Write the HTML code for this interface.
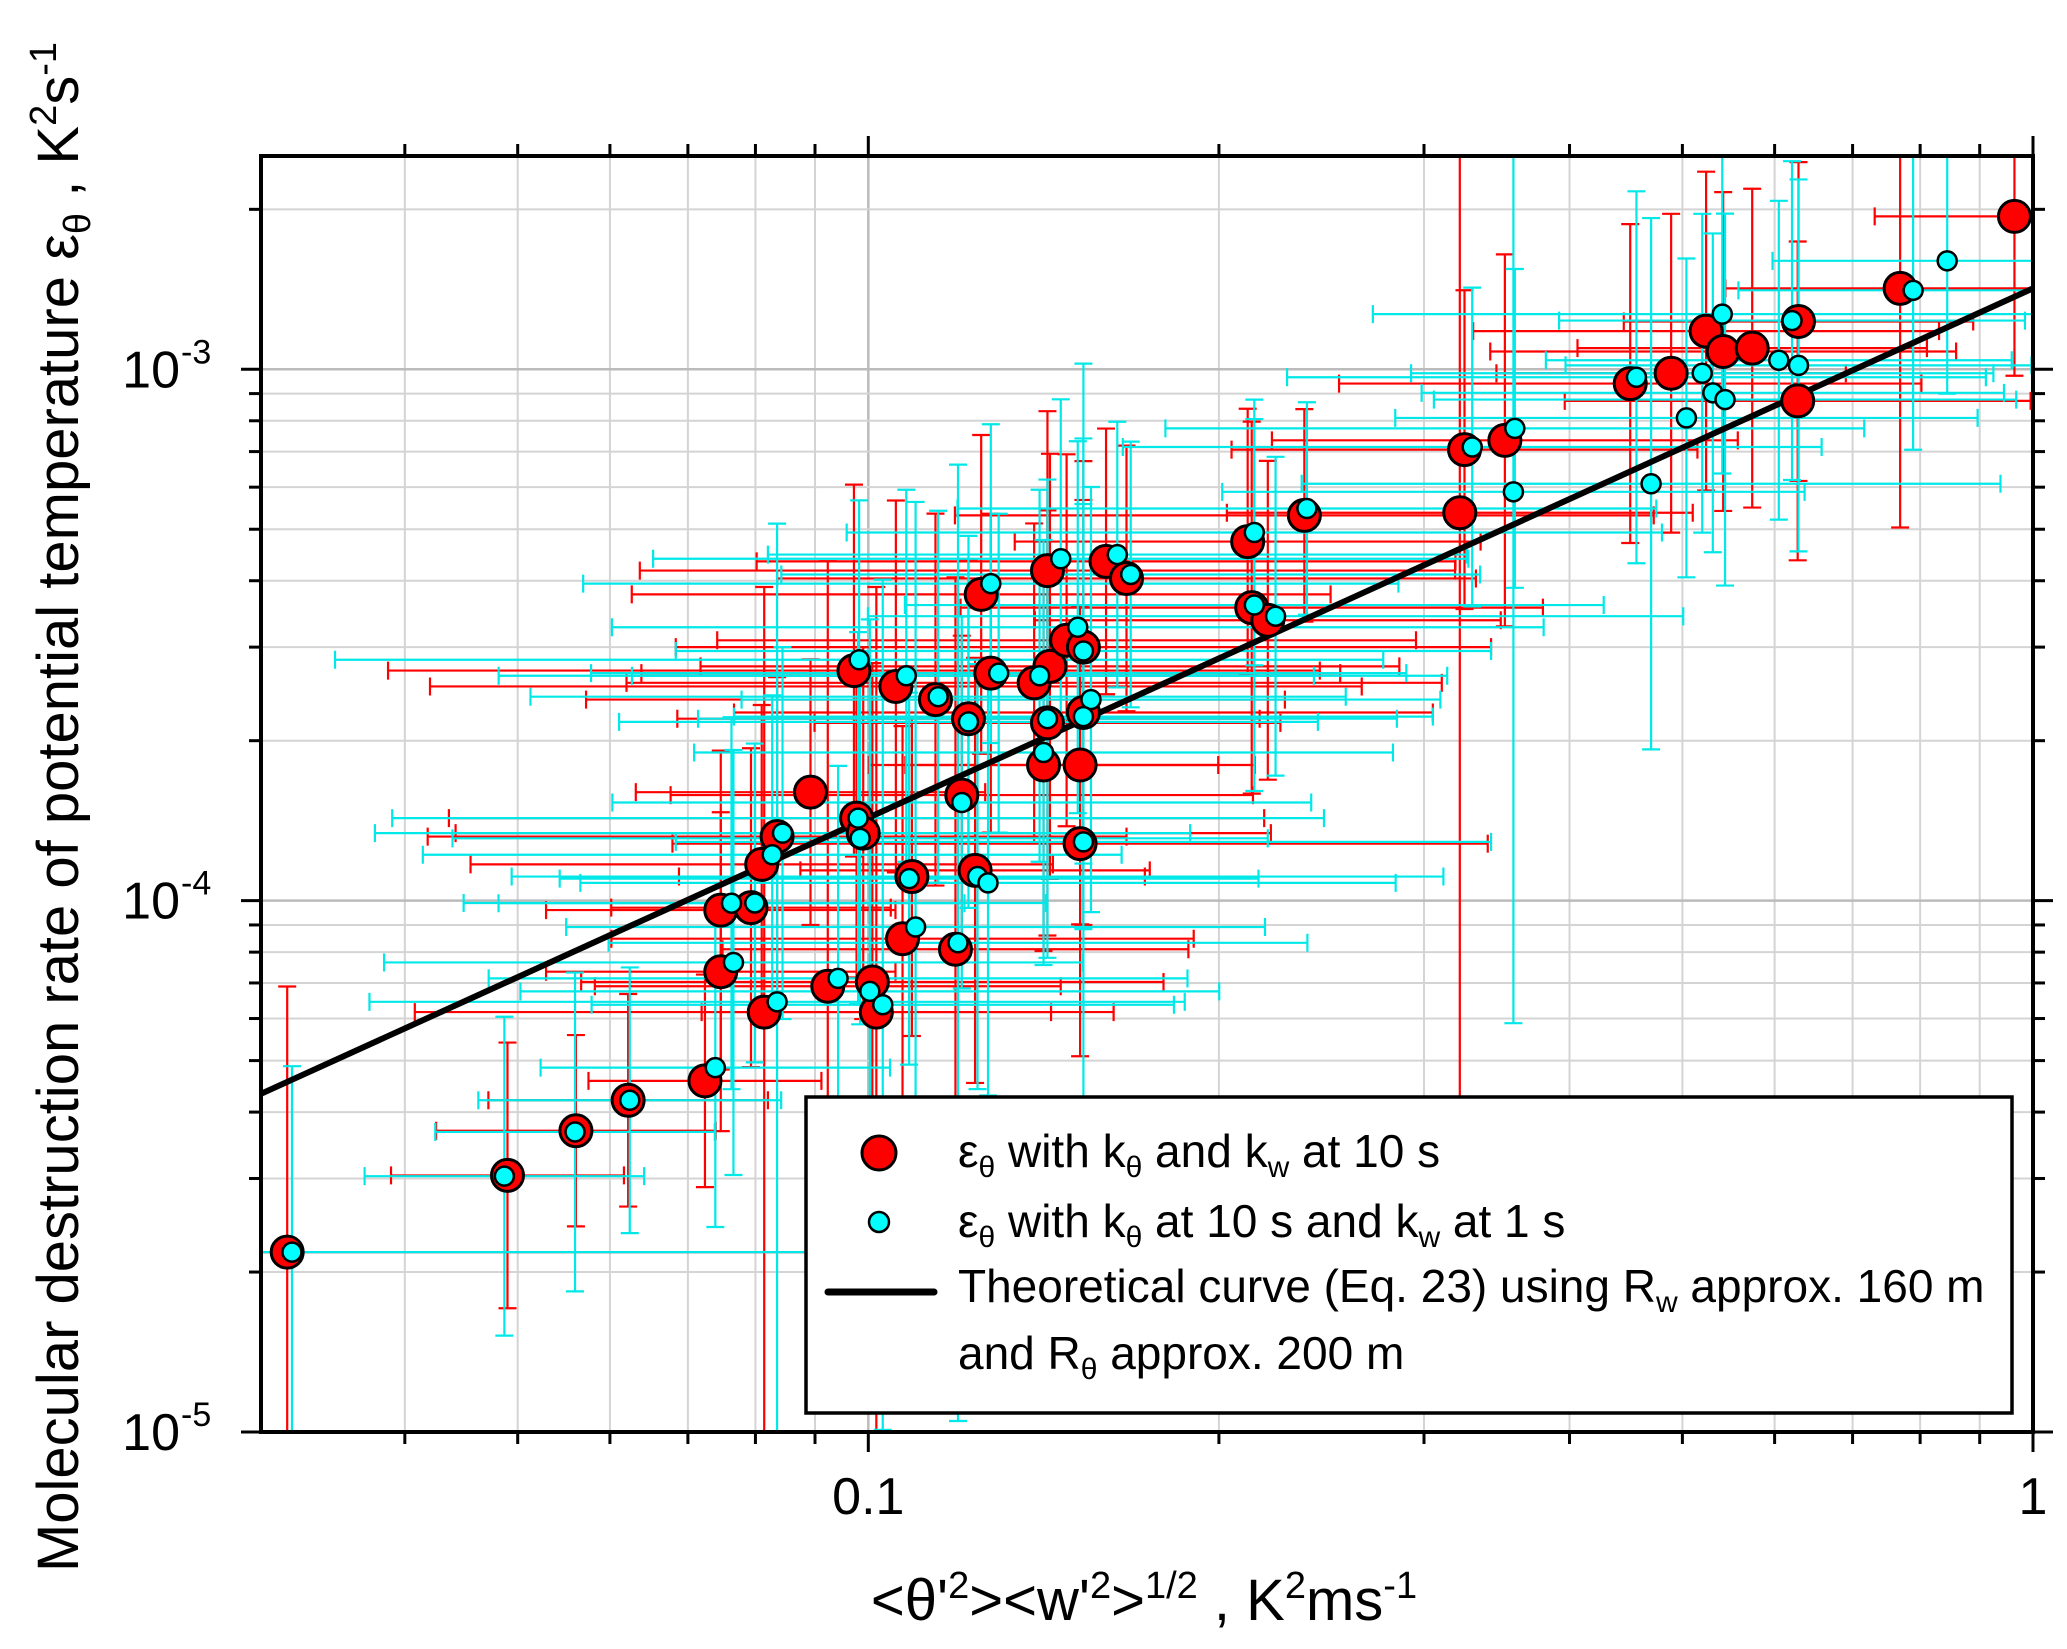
<!DOCTYPE html>
<html><head><meta charset="utf-8"><style>
html,body{margin:0;padding:0;background:#fff;}
svg{display:block;font-family:"Liberation Sans",Arial,sans-serif;}
</style></head><body>
<svg id="chart" width="2067" height="1649" viewBox="0 0 2067 1649" xmlns="http://www.w3.org/2000/svg">
<g id="grid"></g>
<g id="bars"></g>
<g id="theory"></g>
<g id="pts"></g>
<g id="axes"></g>
<g>
<rect x="806" y="1097" width="1206" height="316" fill="#fff" stroke="#000" stroke-width="3.5"/>
<circle cx="879" cy="1153" r="17" fill="#f00" stroke="#000" stroke-width="3"/>
<circle cx="879" cy="1222" r="10" fill="#0ff" stroke="#000" stroke-width="2.5"/>
<line x1="828" y1="1292" x2="934" y2="1292" stroke="#000" stroke-width="7" stroke-linecap="round"/>
<text x="958" y="1167" font-size="46">ε<tspan font-size="30" dy="10">θ</tspan><tspan dy="-10"> with k</tspan><tspan font-size="30" dy="10">θ</tspan><tspan dy="-10"> and k</tspan><tspan font-size="30" dy="10">w</tspan><tspan dy="-10"> at 10 s</tspan></text>
<text x="958" y="1237" font-size="46">ε<tspan font-size="30" dy="10">θ</tspan><tspan dy="-10"> with k</tspan><tspan font-size="30" dy="10">θ</tspan><tspan dy="-10"> at 10 s and k</tspan><tspan font-size="30" dy="10">w</tspan><tspan dy="-10"> at 1 s</tspan></text>
<text x="958" y="1302" font-size="46">Theoretical curve (Eq. 23) using R<tspan font-size="30" dy="10">w</tspan><tspan dy="-10"> approx. 160 m</tspan></text>
<text x="958" y="1369" font-size="46">and R<tspan font-size="30" dy="10">θ</tspan><tspan dy="-10"> approx. 200 m</tspan></text>
</g>
<text x="1144" y="1620" font-size="58" text-anchor="middle">&lt;θ'<tspan font-size="38" dy="-22">2</tspan><tspan dy="22">&gt;&lt;w'</tspan><tspan font-size="38" dy="-22">2</tspan><tspan dy="22">&gt;</tspan><tspan font-size="38" dy="-22">1/2</tspan><tspan dy="22"> , K</tspan><tspan font-size="38" dy="-22">2</tspan><tspan dy="22">ms</tspan><tspan font-size="38" dy="-22">-1</tspan></text>
<text transform="translate(78,807) rotate(-90)" font-size="58" text-anchor="middle">Molecular destruction rate of potential temperature ε<tspan font-size="38" dy="12">θ</tspan><tspan dy="-12"> , K</tspan><tspan font-size="38" dy="-22">2</tspan><tspan dy="22">s</tspan><tspan font-size="38" dy="-22">-1</tspan></text>
</svg>
<script>
const xMin=0.0301, xMax=1, yMin=1e-5, yMax=2.52e-3;
const xTickVals=[0.1,1];
const xTickLabels=["0.1","1"];
const yTickVals=[1e-5,1e-4,1e-3];
const yTickExp=["-5","-4","-3"];
const redX=[0.0317,0.049,0.0561,0.0622,0.0724,0.0747,0.0747,0.0793,0.0814,0.081,0.0835,0.0892,0.0923,0.0977,0.099,0.0972,0.1008,0.1016,0.107,0.1056,0.109,0.1142,0.1188,0.1203,0.1219,0.1235,0.125,0.1274,0.1388,0.1425,0.1414,0.1425,0.1432,0.148,0.153,0.152,0.152,0.160,0.1666,0.153,0.2117,0.2134,0.2203,0.2368,0.322,0.325,0.352,0.451,0.489,0.524,0.542,0.574,0.629,0.628,0.769,0.964];
const redY=[2.18e-5,3.04e-5,3.69e-5,4.21e-5,4.58e-5,7.35e-5,9.6e-5,9.7e-5,6.17e-5,1.17e-4,1.32e-4,1.6e-4,6.9e-5,1.43e-4,1.34e-4,2.71e-4,7.03e-5,6.17e-5,8.48e-5,2.53e-4,1.11e-4,2.39e-4,8.1e-5,1.58e-4,2.2e-4,1.14e-4,3.77e-4,2.68e-4,2.57e-4,4.18e-4,1.8e-4,2.16e-4,2.76e-4,3.09e-4,3.0e-4,1.8e-4,1.28e-4,4.35e-4,4.04e-4,2.26e-4,4.74e-4,3.56e-4,3.37e-4,5.31e-4,5.37e-4,7.06e-4,7.35e-4,9.4e-4,9.83e-4,1.18e-3,1.08e-3,1.096e-3,1.23e-3,8.72e-4,1.42e-3,1.94e-3];
const redXErr=[0.45,0.1,0.12,0.12,0.1,0.15,0.15,0.12,0.3,0.25,0.3,0.15,0.2,0.35,0.35,0.4,0.25,0.15,0.25,0.4,0.2,0.3,0.2,0.25,0.25,0.15,0.3,0.3,0.35,0.35,0.15,0.2,0.3,0.3,0.35,0.15,0.35,0.3,0.3,0.3,0.2,0.25,0.2,0.3,0.2,0.2,0.2,0.25,0.15,0.2,0.2,0.15,0.15,0.2,0.15,0.12];
const redYErr=[0.5,0.25,0.18,0.2,0.2,0.3,0.3,0.3,0.8,0.3,0.3,0.25,0.8,0.3,0.35,0.35,0.6,0.8,0.4,0.35,0.3,0.35,0.7,0.3,0.3,0.4,0.3,0.3,0.3,0.3,0.35,0.4,0.4,0.35,0.35,0.3,0.4,0.25,0.25,0.4,0.25,0.35,0.3,0.2,1.2,0.3,0.35,0.3,0.3,0.3,0.3,0.3,0.3,0.3,0.45,0.3];
const cyanX=[0.032,0.0487,0.056,0.0624,0.0739,0.0763,0.0766,0.0799,0.0835,0.0827,0.0844,0.0942,0.098,0.0984,0.0982,0.1003,0.1029,0.1078,0.1084,0.1098,0.1148,0.1194,0.1203,0.1219,0.1241,0.1267,0.1274,0.1294,0.1403,0.1414,0.1425,0.1463,0.1513,0.153,0.1553,0.153,0.153,0.1636,0.168,0.2145,0.2145,0.2237,0.238,0.330,0.359,0.358,0.4566,0.470,0.504,0.520,0.531,0.541,0.544,0.605,0.621,0.629,0.789,0.844];
const cyanY=[2.18e-5,3.03e-5,3.67e-5,4.21e-5,4.85e-5,9.89e-5,7.65e-5,9.9e-5,6.45e-5,1.22e-4,1.34e-4,7.14e-5,1.43e-4,1.31e-4,2.84e-4,6.75e-5,6.37e-5,2.65e-4,1.1e-4,8.92e-5,2.42e-4,8.33e-5,1.53e-4,2.17e-4,1.11e-4,1.08e-4,3.95e-4,2.68e-4,2.65e-4,1.9e-4,2.2e-4,4.4e-4,3.27e-4,2.95e-4,2.39e-4,2.22e-4,1.29e-4,4.48e-4,4.11e-4,4.93e-4,3.6e-4,3.43e-4,5.47e-4,7.14e-4,7.74e-4,5.88e-4,9.66e-4,6.09e-4,8.1e-4,9.83e-4,9.03e-4,1.27e-3,8.77e-4,1.04e-3,1.235e-3,1.017e-3,1.408e-3,1.6e-3];
const cyanXErr=[0.5,0.12,0.12,0.13,0.15,0.2,0.3,0.25,0.35,0.3,0.35,0.3,0.4,0.35,0.45,0.3,0.25,0.35,0.3,0.3,0.35,0.3,0.3,0.3,0.4,0.35,0.35,0.35,0.35,0.3,0.3,0.35,0.4,0.35,0.3,0.3,0.35,0.3,0.3,0.35,0.3,0.35,0.3,0.3,0.3,0.25,0.3,0.3,0.25,0.25,0.25,0.3,0.25,0.2,0.2,0.2,0.15,0.15];
const cyanYErr=[0.35,0.3,0.3,0.25,0.3,0.35,0.4,0.3,0.9,0.3,0.35,0.4,0.35,0.35,0.3,0.7,0.8,0.35,0.35,0.8,0.35,0.9,0.35,0.35,0.4,0.4,0.3,0.3,0.35,0.4,0.45,0.3,0.35,0.4,0.4,0.4,0.9,0.25,0.25,0.25,0.35,0.3,0.2,0.3,0.3,1.0,0.35,0.5,0.3,0.3,0.3,0.3,0.35,0.3,0.3,0.35,0.3,0.25];
const lineX=[0.0301,1];
const lineY=[4.33e-5,1.42e-3];

const L=261,R=2033,T=156,B=1432;
const lx0=Math.log10(xMin),lx1=Math.log10(xMax),ly0=Math.log10(yMin),ly1=Math.log10(yMax);
function sx(v){return L+(Math.log10(v)-lx0)/(lx1-lx0)*(R-L);}
function sy(v){return B-(Math.log10(v)-ly0)/(ly1-ly0)*(B-T);}
const NS="http://www.w3.org/2000/svg";
function mk(tag,parent,attrs){const e=document.createElementNS(NS,tag);for(const k in attrs)e.setAttribute(k,attrs[k]);parent.appendChild(e);return e;}
const grid=document.getElementById('grid'),axes=document.getElementById('axes'),bars=document.getElementById('bars'),pts=document.getElementById('pts'),theory=document.getElementById('theory');
for(let d=-2;d<=0;d++){for(let m=1;m<=9;m++){const v=m*Math.pow(10,d);if(v<xMin||v>xMax)continue;const x=sx(v);
 const g=mk('line',grid,{x1:x,y1:T,x2:x,y2:B,stroke:m==1?'#bbb':'#d4d4d4','stroke-width':m==1?2.5:2});
 
 
 const len=m==1?20:12;
 const t1=mk('line',axes,{x1:x,y1:B,x2:x,y2:B+len,stroke:'#000','stroke-width':3});
 
 
 const t2=mk('line',axes,{x1:x,y1:T,x2:x,y2:T-len,stroke:'#000','stroke-width':3});
 
 }}
for(let d=-5;d<=-3;d++){for(let m=1;m<=9;m++){const v=m*Math.pow(10,d);if(v<yMin||v>yMax)continue;const y=sy(v);
 const g=mk('line',grid,{x1:L,y1:y,x2:R,y2:y,stroke:m==1?'#bbb':'#d4d4d4','stroke-width':m==1?2.5:2});
 
 
 const len=m==1?20:12;
 const t1=mk('line',axes,{x1:L,y1:y,x2:L-len,y2:y,stroke:'#000','stroke-width':3});
 
 
 const t2=mk('line',axes,{x1:R,y1:y,x2:R+len,y2:y,stroke:'#000','stroke-width':3});
 
 }}
const frame=mk('rect',axes,{x:L,y:T,width:R-L,height:B-T,fill:'none',stroke:'#000','stroke-width':4});


xTickVals.forEach((v,i)=>{const t=mk('text',axes,{x:sx(v),y:B+82,'font-size':52,'text-anchor':'middle'});t.textContent=xTickLabels[i];
 
 });
yTickVals.forEach((v,i)=>{const t=mk('text',axes,{x:180,y:sy(v)+18,'font-size':52,'text-anchor':'end'});t.textContent='10';
 
 
 const s=mk('text',axes,{x:181,y:sy(v)-6,'font-size':34});s.textContent=yTickExp[i];
 
 });
function drawBars(X,Y,EX,EY,color,name){
 for(let i=0;i<X.length;i++){
  const x=sx(X[i]),y=sy(Y[i]);
  let xl=Math.max(L,sx(X[i]/Math.pow(10,EX[i]))),xr=Math.min(R,sx(X[i]*Math.pow(10,EX[i])));
  let yt=Math.max(T,sy(Y[i]*Math.pow(10,EY[i]))),yb=Math.min(B,sy(Y[i]/Math.pow(10,EY[i])));
  const g=mk('g',bars,{stroke:color,'stroke-width':2.2,fill:'none'});
  
  
  mk('path',g,{d:`M${xl},${y}H${xr}M${x},${yt}V${yb}`+(xl>L?`M${xl},${y-9}V${y+9}`:'')+(xr<R?`M${xr},${y-9}V${y+9}`:'')+(yt>T?`M${x-9},${yt}H${x+9}`:'')+(yb<B?`M${x-9},${yb}H${x+9}`:'')});
 }}
drawBars(redX,redY,redXErr,redYErr,'#f00','error-bar-red');
drawBars(cyanX,cyanY,cyanXErr,cyanYErr,'#00e8e8','error-bar-cyan');
const tl=mk('line',theory,{x1:sx(lineX[0]),y1:sy(lineY[0]),x2:sx(lineX[1]),y2:sy(lineY[1]),stroke:'#000','stroke-width':6});


for(let i=0;i<redX.length;i++){const c=mk('circle',pts,{cx:sx(redX[i]),cy:sy(redY[i]),r:16,fill:'#f00',stroke:'#000','stroke-width':3});
 
 }
for(let i=0;i<cyanX.length;i++){const c=mk('circle',pts,{cx:sx(cyanX[i]),cy:sy(cyanY[i]),r:9.5,fill:'#0ff',stroke:'#000','stroke-width':2.5});
 
 }
</script>
</body></html>
